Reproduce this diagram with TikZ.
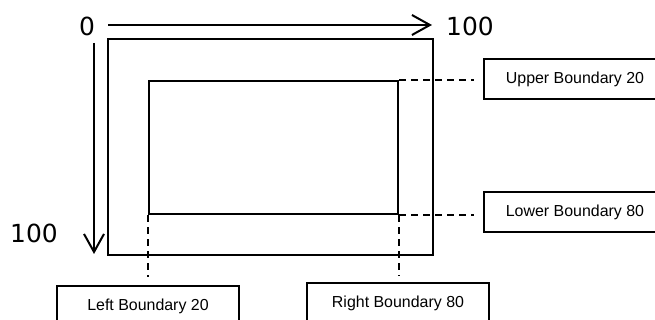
\documentclass[tikz,border=0pt]{standalone}
\usepackage{fontspec}
\setmainfont{Liberation Sans}
\newfontfamily\numfont{DejaVu Sans}
\usetikzlibrary{arrows.meta}
\tikzset{
  frame/.style={draw,rectangle,line width=2.4bp,inner sep=0pt},
  label box/.style={draw,rectangle,line width=2.6bp,minimum width=182bp,minimum height=40bp,font=\fontsize{16}{18}\selectfont},
  axis/.style={line width=2bp,-{Straight Barb[length=18bp,width=20bp]}},
  guide/.style={line width=1.8bp,dash pattern=on 7bp off 5bp},
  num/.style={font=\numfont\fontsize{25}{28}\selectfont,inner sep=0pt}
}
\begin{document}
\begin{tikzpicture}
  \useasboundingbox (0bp,0bp) rectangle (655bp,320bp);
  \clip (0bp,0bp) rectangle (655bp,320bp);
		%%
  \node (Outer) at (270.5bp,173.0bp) [frame,minimum width=325bp,minimum height=216bp] {};
  \node (Inner) at (273.5bp,172.5bp) [frame,minimum width=249bp,minimum height=133bp] {};
  \node (Zero) at (87.0bp,294.0bp) [num] {0};
  \node (TopMax) at (470.0bp,294.0bp) [num] {100};
  \node (SideMax) at (34.0bp,87.0bp) [num] {100};
  \coordinate (TopStart) at (108.0bp,295.0bp);
  \coordinate (TopEnd) at (432.0bp,295.0bp);
  \coordinate (SideStart) at (94.0bp,277.0bp);
  \coordinate (SideEnd) at (94.0bp,66.0bp);
  \node (Upper) at (575.0bp,241.0bp) [label box] {Upper Boundary 20};
  \node (Lower) at (575.0bp,108.0bp) [label box] {Lower Boundary 80};
  \node (Left) at (148.0bp,14.0bp) [label box] {Left Boundary 20};
  \node (Right) at (398.0bp,17.0bp) [label box] {Right Boundary 80};
  \draw [axis] (TopStart) -- (TopEnd);
  \draw [axis] (SideStart) -- (SideEnd);
  \draw [guide,shorten >=9bp] (Inner.north east) -- (Inner.north east -| Upper.west);
  \draw [guide,shorten >=9bp] (Inner.south east) -- (Inner.south east -| Lower.west);
  \draw [guide,shorten >=8bp] (Inner.south west) -- (Inner.south west |- Left.north);
  \draw [guide,shorten >=6bp] (Inner.south east) -- (Inner.south east |- Right.north);
		%
\end{tikzpicture}
\end{document}
